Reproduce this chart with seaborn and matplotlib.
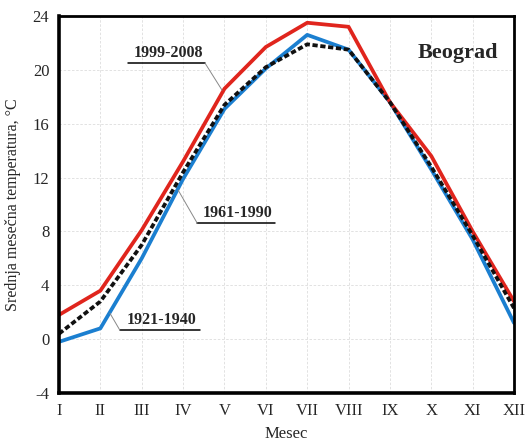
import pandas as pd
import numpy as np
import matplotlib
matplotlib.use("Agg")
import matplotlib.pyplot as plt
import seaborn as sns

# monthly mean temperatures, Beograd
months = ["I", "II", "III", "IV", "V", "VI", "VII", "VIII", "IX", "X", "XI", "XII"]
t_1921_1940 = [-0.2, 0.8, 6.0, 11.9, 17.1, 20.1, 22.6, 21.5, 17.6, 12.6, 7.4, 1.2]
t_1961_1990 = [0.4, 2.8, 7.0, 12.4, 17.4, 20.2, 21.9, 21.5, 17.6, 12.8, 7.7, 2.3]
t_1999_2008 = [1.8, 3.6, 8.1, 13.2, 18.6, 21.7, 23.5, 23.2, 17.6, 13.6, 8.0, 2.8]

data = pd.DataFrame({
    "mesec": list(range(1, 13)) * 3,
    "temp": t_1921_1940 + t_1999_2008 + t_1961_1990,
    "period": ["1921-1940"] * 12 + ["1999-2008"] * 12 + ["1961-1990"] * 12,
})

sns.set_style("white")
plt.rcParams['font.family'] = ['Liberation Serif', 'DejaVu Serif']
plt.rcParams['axes.unicode_minus'] = False

fig = plt.figure(figsize=(5.25, 4.45), dpi=100)
ax = fig.add_axes([0.1124, 0.1169, 0.8667, 0.8471])

sns.lineplot(data=data, x="mesec", y="temp", hue="period", style="period",
             palette={"1921-1940": "#1b7fd0", "1999-2008": "#e0251d", "1961-1990": "#111111"},
             dashes={"1921-1940": "", "1999-2008": "", "1961-1990": (1.4, 0.7)},
             linewidth=2.7, legend=False, ax=ax)

ax.set_xlim(1, 12)
ax.set_ylim(-4, 24)
ax.set_xticks(range(1, 13))
ax.set_xticklabels(months)
ax.set_yticks(range(-4, 25, 4))
ax.tick_params(length=0, labelsize=12, pad=7)
ax.grid(True, color="#dddddd", linestyle=(0, (3, 2)), linewidth=0.6)
for s in ax.spines.values():
    s.set_color("black")
    s.set_linewidth(2.0)
ax.spines["left"].set_linewidth(2.6)
ax.spines["bottom"].set_linewidth(2.6)

ax.set_xlabel("Mesec", fontsize=12, labelpad=5)
ax.set_ylabel("Srednja mesečna temperatura, °C", fontsize=11.5, labelpad=8)

ax.text(11.61, 21.25, "Beograd", fontsize=16, fontweight="bold", ha="right", va="center")

# labels with underline and leader line
labels = [
    ("1999-2008", 2.67, 4.53, 20.5, 4.94, 18.5),
    ("1961-1990", 4.34, 6.22, 8.62, 3.88, 11.07),
    ("1921-1940", 2.47, 4.41, 0.67, 2.23, 1.93),
]
for txt, x0, x1, yl, xe, ye in labels:
    ax.text((x0 + x1) / 2 + 0.04, yl + 0.15, txt, fontsize=11.5, fontweight="bold",
            ha="center", va="bottom")
    ax.plot([x0, x1], [yl, yl], color="black", linewidth=1.1, zorder=5)
    if xe > x0:
        ax.plot([x1, xe], [yl, ye], color="#888888", linewidth=0.7, zorder=5)
    else:
        ax.plot([x0, xe], [yl, ye], color="#888888", linewidth=0.7, zorder=5)

fig.savefig("out.png", dpi=100)
